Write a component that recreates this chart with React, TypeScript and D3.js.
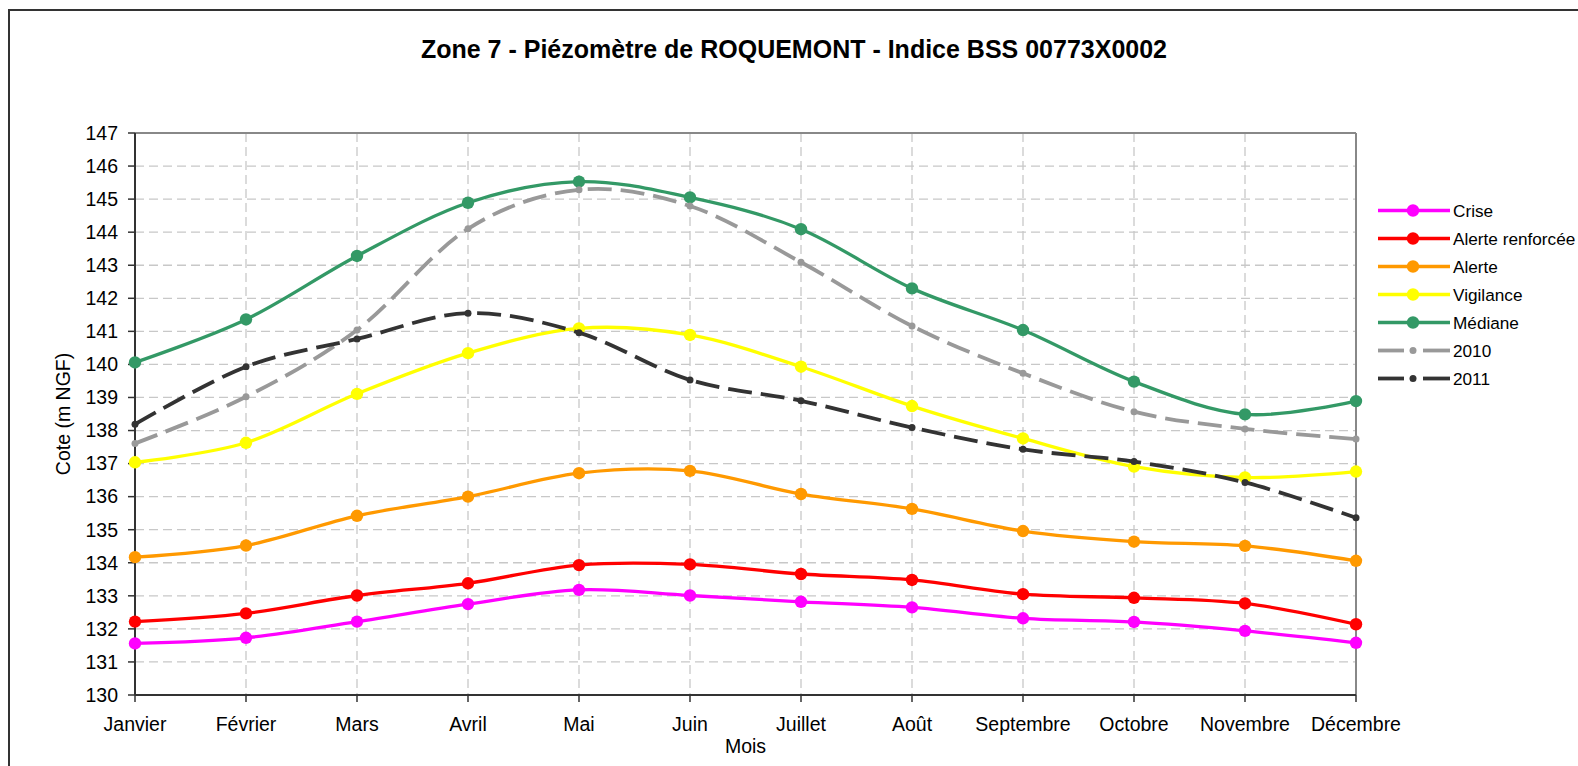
import React from "react";
import * as d3 from "d3";

const months = ["Janvier", "Février", "Mars", "Avril", "Mai", "Juin", "Juillet", "Août", "Septembre", "Octobre", "Novembre", "Décembre"];
const yTicks = [130, 131, 132, 133, 134, 135, 136, 137, 138, 139, 140, 141, 142, 143, 144, 145, 146, 147];

const crise = [131.56, 131.73, 132.22, 132.75, 133.18, 133.01, 132.82, 132.65, 132.32, 132.21, 131.94, 131.58];
const alerteRenforcee = [132.22, 132.47, 133.01, 133.38, 133.93, 133.95, 133.66, 133.48, 133.05, 132.94, 132.77, 132.14];
const alerte = [134.17, 134.52, 135.42, 136.0, 136.71, 136.78, 136.08, 135.63, 134.96, 134.64, 134.51, 134.06];
const vigilance = [137.04, 137.63, 139.11, 140.34, 141.09, 140.89, 139.93, 138.74, 137.76, 136.91, 136.58, 136.76];
const mediane = [140.06, 141.36, 143.28, 144.89, 145.53, 145.05, 144.09, 142.3, 141.04, 139.48, 138.49, 138.89];
const y2010 = [137.61, 139.02, 141.04, 144.1, 145.28, 144.79, 143.09, 141.16, 139.73, 138.57, 138.05, 137.74];
const y2011 = [138.19, 139.93, 140.77, 141.55, 140.96, 139.53, 138.9, 138.09, 137.43, 137.06, 136.43, 135.36];

const seriesNames = ["Crise", "Alerte renforcée", "Alerte", "Vigilance", "Médiane", "2010", "2011"];
const seriesValues = [crise, alerteRenforcee, alerte, vigilance, mediane, y2010, y2011];
const seriesColors = ["#FF00FF", "#FF0000", "#FF9900", "#FFFF00", "#339966", "#999999", "#333333"];
const seriesDashed = [false, false, false, false, false, true, true];

const FONT = "Arial, 'Liberation Sans', sans-serif";

export default function App() {
  const left = 135, right = 1356, top = 133, bottom = 695;
  const x = d3.scalePoint<string>().domain(months).range([left, right]);
  const y = d3.scaleLinear().domain([130, 147]).range([bottom, top]);
  const line = d3
    .line<number>()
    .x((_, i) => x(months[i]) as number)
    .y((d) => y(d))
    .curve(d3.curveCatmullRom.alpha(0));

  const legendX = 1378, legendY0 = 210.5, legendStep = 28;

  return (
    <svg width={1578} height={766} style={{ position: "fixed", left: 0, top: 0 }} fontFamily={FONT}>
      <rect x={0} y={0} width={1578} height={766} fill="#fff" />
      <rect x={9} y={10} width={1600} height={800} fill="#fff" stroke="#333" strokeWidth={2} />
      <text x={794} y={58} textAnchor="middle" fontSize={25} fontWeight="bold" fill="#000">
        Zone 7 - Piézomètre de ROQUEMONT - Indice BSS 00773X0002
      </text>

      {/* grid */}
      {yTicks.slice(1, -1).map((t) => (
        <line key={"h" + t} x1={left} x2={right} y1={y(t)} y2={y(t)} stroke="#c8c8c8" strokeWidth={1.3} strokeDasharray="9 5" />
      ))}
      {months.slice(1, -1).map((m) => (
        <line key={"v" + m} x1={x(m)} x2={x(m)} y1={top} y2={bottom} stroke="#c8c8c8" strokeWidth={1.3} strokeDasharray="9 5" />
      ))}
      {/* plot border top/right */}
      <line x1={left} x2={right} y1={top} y2={top} stroke="#888" strokeWidth={2} />
      <line x1={right} x2={right} y1={top} y2={bottom} stroke="#888" strokeWidth={2} />

      {/* axes */}
      <line x1={left} x2={left} y1={top} y2={bottom} stroke="#333" strokeWidth={2} />
      <line x1={left} x2={right} y1={bottom} y2={bottom} stroke="#333" strokeWidth={2} />
      {yTicks.map((t) => (
        <g key={"yt" + t}>
          <line x1={128} x2={left} y1={y(t)} y2={y(t)} stroke="#333" strokeWidth={1.5} />
          <text x={118} y={y(t)} dy="0.35em" textAnchor="end" fontSize={19.5} fill="#000">
            {t}
          </text>
        </g>
      ))}
      {months.map((m) => (
        <g key={"xt" + m}>
          <line x1={x(m)} x2={x(m)} y1={bottom} y2={bottom + 7} stroke="#333" strokeWidth={1.5} />
          <text x={x(m)} y={731} textAnchor="middle" fontSize={19.5} fill="#000">
            {m}
          </text>
        </g>
      ))}
      <text x={(left + right) / 2} y={753} textAnchor="middle" fontSize={19.5} fill="#000">
        Mois
      </text>
      <text transform={`translate(70,${(top + bottom) / 2}) rotate(-90)`} textAnchor="middle" fontSize={19.5} fill="#000">
        Cote (m NGF)
      </text>

      {/* series */}
      {seriesValues.map((vals, si) => (
        <g key={"s" + si}>
          <path
            d={line(vals) as string}
            fill="none"
            stroke={seriesColors[si]}
            strokeWidth={seriesDashed[si] ? 3.8 : 3.3}
            strokeDasharray={seriesDashed[si] ? "24 9" : undefined}
          />
          {vals.map((v, i) => (
            <circle key={i} cx={x(months[i])} cy={y(v)} r={seriesDashed[si] ? 3.5 : 6.2} fill={seriesColors[si]} />
          ))}
        </g>
      ))}

      {/* legend */}
      {seriesNames.map((n, i) => {
        const ly = legendY0 + i * legendStep;
        return (
          <g key={"l" + n}>
            {seriesDashed[i] ? (
              <>
                <line x1={legendX} x2={legendX + 26} y1={ly} y2={ly} stroke={seriesColors[i]} strokeWidth={3.8} />
                <line x1={legendX + 45} x2={legendX + 72} y1={ly} y2={ly} stroke={seriesColors[i]} strokeWidth={3.8} />
              </>
            ) : (
              <line x1={legendX} x2={legendX + 72} y1={ly} y2={ly} stroke={seriesColors[i]} strokeWidth={3.3} />
            )}
            <circle cx={legendX + 35} cy={ly} r={seriesDashed[i] ? 3.5 : 6.2} fill={seriesColors[i]} />
            <text x={legendX + 75} y={ly} dy="0.35em" fontSize={17.2} fill="#000">
              {n}
            </text>
          </g>
        );
      })}
    </svg>
  );
}
